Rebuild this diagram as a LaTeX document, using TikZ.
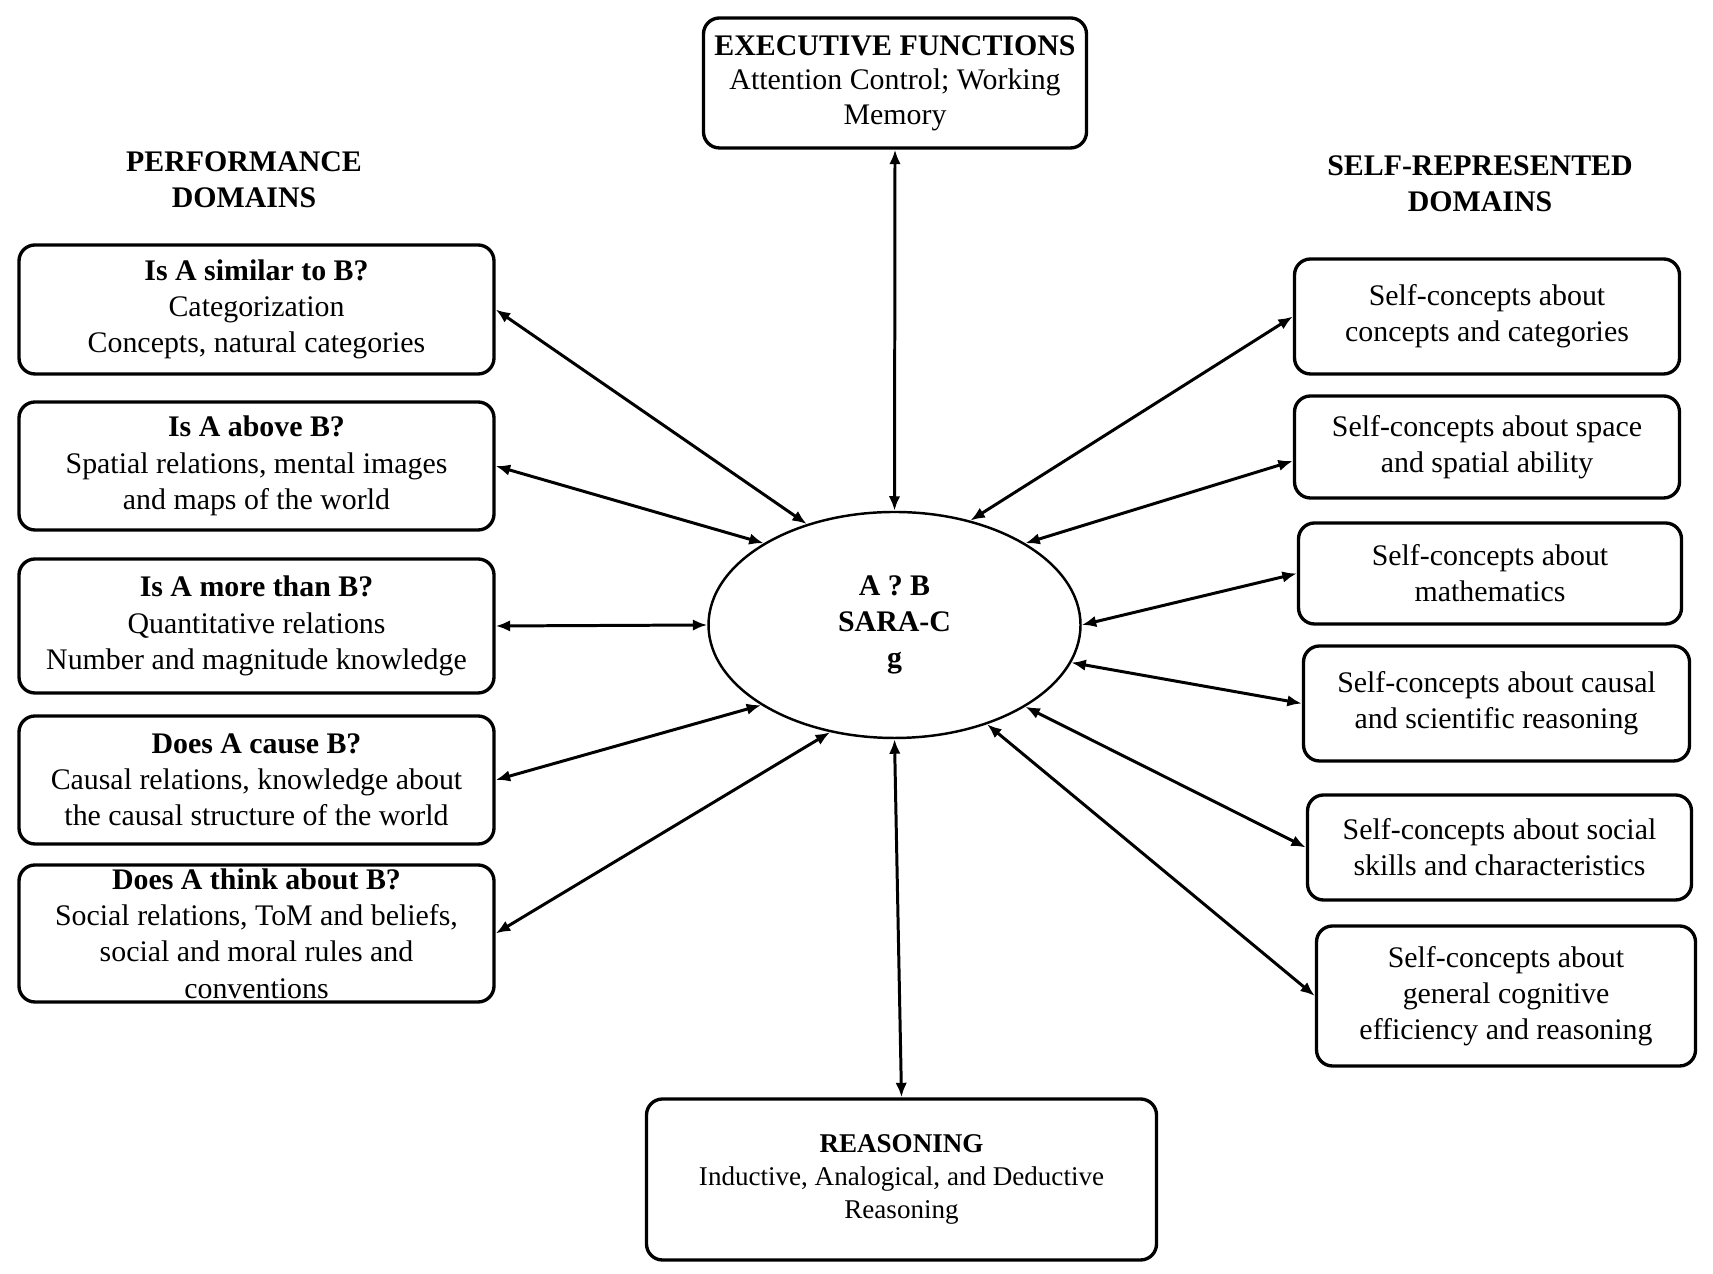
\documentclass[tikz,border=0pt]{standalone}
\usepackage{fontspec}
\setmainfont{Liberation Serif}
\usetikzlibrary{arrows.meta, positioning, shapes, calc}

\begin{document}
\begin{tikzpicture}[
        box/.style={rectangle, rounded corners=0.16cm, draw=black, line width=0.95pt, align=center, inner sep=0pt, font=\fontsize{8.5pt}{10.3pt}\selectfont},
        lbox/.style={box, minimum width=4.75cm},
        rbox/.style={box, minimum width=3.85cm},
        title/.style={align=center, font=\fontsize{8.5pt}{10.3pt}\selectfont\bfseries},
        arrow/.style={{Latex[length=1.45mm,width=1.15mm]}-{Latex[length=1.45mm,width=1.15mm]}, line width=0.85pt}
    ]
        \useasboundingbox (0,0) rectangle (17.13,12.74);

        % Centre
        \node[ellipse, draw, line width=0.7pt, minimum width=3.72cm, minimum height=2.26cm, align=center, font=\fontsize{8.5pt}{10.3pt}\selectfont\bfseries] (sara) at (8.945, 6.49) {A ? B\\SARA-C\\g};

        % Executive functions and reasoning
        \node[box, minimum width=3.83cm, minimum height=1.30cm, font=\fontsize{8.5pt}{9.8pt}\selectfont] (exec) at (8.95, 11.91) {\textbf{EXECUTIVE FUNCTIONS}\\Attention Control; Working\\Memory};
        \node[box, minimum width=5.10cm, minimum height=1.61cm, font=\fontsize{7.7pt}{9.4pt}\selectfont] (reas) at (9.015, 0.945) {\textbf{REASONING}\\Inductive, Analogical, and Deductive\\Reasoning};
        \draw[arrow] (exec.south) -- (sara.north);
        \draw[arrow] (sara.south) -- (reas.north);

        % Performance domains
        \node[title] (perf) at (2.44, 10.94) {PERFORMANCE\\DOMAINS};
        \node[lbox, minimum height=1.29cm] (b1) at (2.565, 9.645) {\textbf{Is A similar to B?}\\Categorization\\Concepts, natural categories};
        \node[lbox, minimum height=1.28cm] (b2) at (2.565, 8.08) {\textbf{Is A above B?}\\Spatial relations, mental images\\and maps of the world};
        \node[lbox, minimum height=1.34cm] (b3) at (2.565, 6.48) {\textbf{Is A more than B?}\\Quantitative relations\\Number and magnitude knowledge};
        \node[lbox, minimum height=1.28cm] (b4) at (2.565, 4.94) {\textbf{Does A cause B?}\\Causal relations, knowledge about\\the causal structure of the world};
        \node[lbox, minimum height=1.37cm] (b5) at (2.565, 3.405) {\textbf{Does A think about B?}\\Social relations, ToM and beliefs,\\social and moral rules and\\conventions};
        \draw[arrow] (b1.east) -- (sara.131);
        \draw[arrow] (b2.east) -- (sara.148.5);
        \draw[arrow] (b3.east) -- (sara.180);
        \draw[arrow] (b4.east) -- (sara.211);
        \draw[arrow] (b5.east) -- (sara.239);

        % Self-represented domains
        \node[title] (selfrep) at (14.80, 10.90) {SELF-REPRESENTED\\DOMAINS};
        \node[rbox, minimum height=1.15cm] (r1) at (14.87, 9.575) {Self-concepts about\\concepts and categories};
        \node[rbox, minimum height=1.02cm] (r2) at (14.87, 8.27) {Self-concepts about space\\and spatial ability};
        \node[rbox, minimum height=1.01cm, minimum width=3.83cm] (r3) at (14.90, 7.005) {Self-concepts about\\mathematics};
        \node[rbox, minimum height=1.15cm, minimum width=3.86cm] (r4) at (14.965, 5.705) {Self-concepts about causal\\and scientific reasoning};
        \node[rbox, minimum height=1.05cm, minimum width=3.84cm] (r5) at (14.995, 4.265) {Self-concepts about social\\skills and characteristics};
        \node[rbox, minimum height=1.40cm, minimum width=3.79cm] (r6) at (15.06, 2.78) {Self-concepts about\\general cognitive\\efficiency and reasoning};
        \draw[arrow] (sara.54.7) -- (r1.west);
        \draw[arrow] (sara.32.7) -- ($(r2.west)+(0,-0.14)$);
        \draw[arrow] (sara.0) -- (r3.west);
        \draw[arrow] (sara.348) -- (r4.west);
        \draw[arrow] (sara.328.6) -- (r5.west);
        \draw[arrow] (sara.313.8) -- (r6.west);
    \end{tikzpicture}
\end{document}
